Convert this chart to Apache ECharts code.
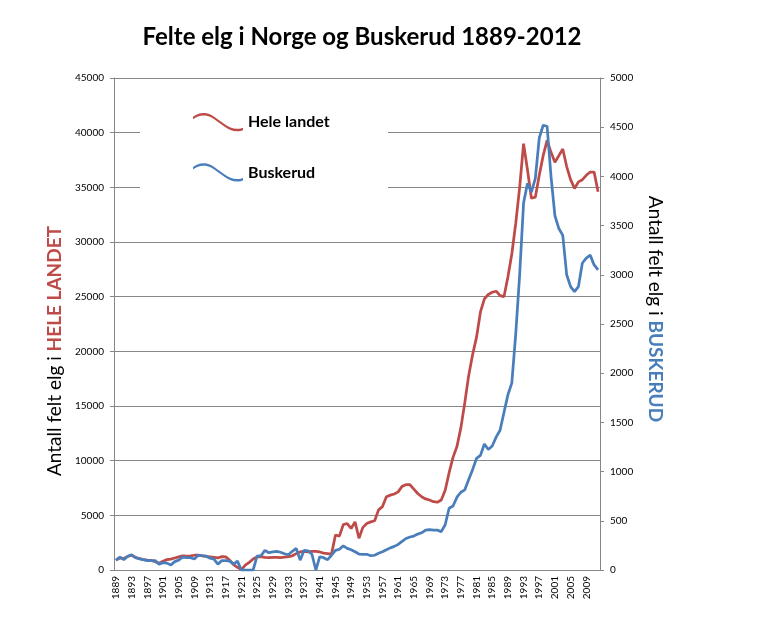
<!DOCTYPE html>
<html>
<head>
<meta charset="utf-8">
<script src="https://cdn.jsdelivr.net/npm/echarts@6/dist/echarts.min.js"></script>
<style>
html,body{margin:0;padding:0;background:#fff;}
#c{width:777px;height:623px;}
</style>
</head>
<body>
<div id="c"></div>
<script>
const years = [1889,1890,1891,1892,1893,1894,1895,1896,1897,1898,1899,1900,1901,1902,1903,1904,1905,1906,1907,1908,1909,1910,1911,1912,1913,1914,1915,1916,1917,1918,1919,1920,1921,1922,1923,1924,1925,1926,1927,1928,1929,1930,1931,1932,1933,1934,1935,1936,1937,1938,1939,1940,1941,1942,1943,1944,1945,1946,1947,1948,1949,1950,1951,1952,1953,1954,1955,1956,1957,1958,1959,1960,1961,1962,1963,1964,1965,1966,1967,1968,1969,1970,1971,1972,1973,1974,1975,1976,1977,1978,1979,1980,1981,1982,1983,1984,1985,1986,1987,1988,1989,1990,1991,1992,1993,1994,1995,1996,1997,1998,1999,2000,2001,2002,2003,2004,2005,2006,2007,2008,2009,2010,2011,2012];

// Felte elg, hele landet (left axis)
const heleLandet = [900,1100,1050,1250,1350,1150,1050,950,900,870,750,620,800,950,1000,1100,1200,1300,1280,1300,1350,1370,1300,1250,1200,1150,1100,1220,1200,900,500,250,30,450,700,1000,1200,1220,1150,1130,1150,1150,1130,1180,1220,1300,1500,1650,1700,1650,1700,1700,1650,1550,1500,1450,3200,3100,4150,4250,3800,4400,2900,3900,4250,4400,4500,5500,5800,6700,6850,6950,7150,7650,7800,7800,7400,7000,6700,6500,6400,6250,6200,6400,7300,8900,10300,11300,13000,15300,17800,19700,21300,23600,24800,25200,25400,25500,25100,25000,26800,28900,31700,35000,39000,36600,34000,34100,36100,37900,39300,38200,37300,37900,38500,36900,35700,34900,35500,35700,36100,36400,36400,34600];

// Felte elg, Buskerud (right axis)
const buskerud = [100,130,105,140,155,125,112,105,95,95,95,60,75,70,50,85,100,130,125,125,112,150,145,140,120,110,60,95,95,90,60,90,0,0,0,0,140,145,200,175,185,190,180,165,155,190,220,100,200,195,160,0,135,125,105,150,200,210,245,220,205,185,162,160,160,145,150,170,185,205,225,240,260,290,320,335,345,365,378,405,410,405,405,390,460,627,650,740,790,815,920,1020,1135,1165,1280,1225,1260,1350,1420,1600,1780,1900,2400,3000,3730,3930,3840,3980,4390,4520,4510,4000,3600,3470,3400,3000,2880,2830,2880,3120,3170,3200,3100,3050];

const seriesNames = ['Hele landet', 'Buskerud'];
const RED = '#BE4B48';
const BLUE = '#4A7EBB';
const GRID = '#878787';
const FONT = 'Lato, "Open Sans", sans-serif';

const wave = 'path://M0,5 C5,1 12,0 18,3 C28,9 35,17 44,17 C47,17 49,16.5 50,16 L50,18.5 C49,19 47,19.5 44,19.5 C35,19.5 28,11.5 18,5.5 C12,2.5 5,3.5 0,7.5 Z';
const plain = v => String(v);

const chart = echarts.init(document.getElementById('c'), null, {renderer: 'canvas'});
chart.setOption({
  animation: false,
  backgroundColor: '#fff',
  title: {
    text: 'Felte elg i Norge og Buskerud 1889-2012',
    left: 357, top: 20, textAlign: 'center',
    textStyle: {fontFamily: FONT, fontWeight: 'bold', fontSize: 24, color: '#000'}
  },
  grid: {left: 114, right: 177, top: 78, bottom: 53, containLabel: false},
  legend: {
    orient: 'vertical', left: 188, top: 108, z: 200,
    itemWidth: 50, itemHeight: 19, itemGap: 32,
    icon: wave,
    textStyle: {fontFamily: FONT, fontWeight: 'bold', fontSize: 16, color: '#000'},
    data: [
      {name: seriesNames[0], itemStyle: {color: RED, borderWidth: 0}},
      {name: seriesNames[1], itemStyle: {color: BLUE, borderWidth: 0}}
    ]
  },
  graphic: [{
    type: 'rect', z: 100,
    shape: {x: 140, y: 100, width: 248, height: 100},
    style: {fill: '#fff'}
  }],
  xAxis: {
    type: 'category', data: years, boundaryGap: true,
    axisLine: {lineStyle: {color: GRID}},
    axisTick: {show: false},
    axisLabel: {interval: 3, rotate: 90, fontSize: 10, color: '#000', fontFamily: FONT, margin: 6}
  },
  yAxis: [
    {
      type: 'value', min: 0, max: 45000, interval: 5000, position: 'left',
      axisLine: {show: true, lineStyle: {color: GRID}},
      axisTick: {show: true, length: 4, lineStyle: {color: GRID}},
      axisLabel: {fontSize: 10, color: '#000', fontFamily: FONT, margin: 10, formatter: plain},
      splitLine: {show: true, lineStyle: {color: GRID, width: 1}},
      name: '{a|Antall felt elg i }{b|HELE LANDET}',
      nameLocation: 'middle', nameGap: 48,
      nameTextStyle: {
        fontFamily: FONT, fontSize: 19, color: '#000', padding: [0, 54, 0, 0],
        rich: {
          a: {fontFamily: FONT, fontSize: 19, color: '#000'},
          b: {fontFamily: FONT, fontSize: 19, color: RED, fontWeight: 'bold'}
        }
      }
    },
    {
      type: 'value', min: 0, max: 5000, interval: 500, position: 'right',
      axisLine: {show: true, lineStyle: {color: GRID}},
      axisTick: {show: true, length: 4, lineStyle: {color: GRID}},
      axisLabel: {fontSize: 10, color: '#000', fontFamily: FONT, margin: 10, formatter: plain},
      splitLine: {show: false},
      name: '{a|Antall felt elg i }{b|BUSKERUD}',
      nameLocation: 'middle', nameGap: 46, nameRotate: -90,
      nameTextStyle: {
        fontFamily: FONT, fontSize: 19, color: '#000', padding: [0, 30, 0, 0],
        rich: {
          a: {fontFamily: FONT, fontSize: 19, color: '#000'},
          b: {fontFamily: FONT, fontSize: 19, color: BLUE, fontWeight: 'bold'}
        }
      }
    }
  ],
  series: [
    {
      name: seriesNames[0], type: 'line', yAxisIndex: 0, data: heleLandet,
      showSymbol: false, symbol: 'none', smooth: false,
      lineStyle: {color: RED, width: 2.75}, itemStyle: {color: RED}
    },
    {
      name: seriesNames[1], type: 'line', yAxisIndex: 1, data: buskerud,
      showSymbol: false, symbol: 'none', smooth: false,
      lineStyle: {color: BLUE, width: 2.75}, itemStyle: {color: BLUE}
    }
  ]
});
</script>
</body>
</html>
